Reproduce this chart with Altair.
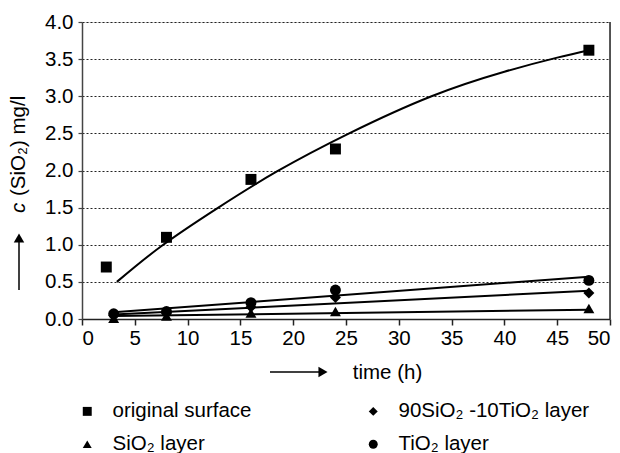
import altair as alt
import pandas as pd

# ---- data ----
series_names = ["original surface", "SiO\u2082 layer", "90SiO\u2082 -10TiO\u2082 layer", "TiO\u2082 layer"]
series_shapes = ["square", "triangle-up", "diamond", "circle"]

t_surface = [2.3, 8, 16, 24, 48]
c_surface = [0.70, 1.10, 1.88, 2.29, 3.62]

t_layers = [3, 8, 16, 24, 48]
c_sio2 = [0.01, 0.04, 0.08, 0.10, 0.14]
c_mixed = [0.05, 0.08, 0.16, 0.29, 0.35]
c_tio2 = [0.07, 0.10, 0.22, 0.39, 0.52]

# fitted curves
t_surface_fit = [3.3, 7.5, 12.8, 18.5, 25.3, 33.1, 40.0, 45.0, 48]
c_surface_fit = [0.50, 0.98, 1.49, 1.99, 2.50, 3.00, 3.33, 3.52, 3.62]
t_lin_fit = [3, 48]
c_tio2_fit = [0.09, 0.57]
c_mixed_fit = [0.06, 0.38]
c_sio2_fit = [0.04, 0.125]

x_ticks = list(range(0, 51, 5))
y_ticks = [0.0, 0.5, 1.0, 1.5, 2.0, 2.5, 3.0, 3.5, 4.0]

# ---- tables ----
rows = []
for t, c in zip(t_surface, c_surface):
    rows.append({"t": t, "c": c, "s": series_names[0]})
for name, vals in [(series_names[1], c_sio2), (series_names[2], c_mixed), (series_names[3], c_tio2)]:
    for t, c in zip(t_layers, vals):
        rows.append({"t": t, "c": c, "s": name})
pts = pd.DataFrame(rows)

fit_rows = []
for t, c in zip(t_surface_fit, c_surface_fit):
    fit_rows.append({"t": t, "c": c, "g": "surface"})
for g, vals in [("tio2", c_tio2_fit), ("mixed", c_mixed_fit), ("sio2", c_sio2_fit)]:
    for t, c in zip(t_lin_fit, vals):
        fit_rows.append({"t": t, "c": c, "g": g})
fits = pd.DataFrame(fit_rows)

FONT = "Liberation Sans"
W, H = 528, 297
FS = 20.5

xs = alt.Scale(domain=[0, 50], nice=False)
ys = alt.Scale(domain=[0, 4], nice=False)

x_axis = alt.Axis(values=x_ticks, title="time (h)", grid=False, tickSize=6,
                  labelFontSize=FS, labelPadding=3, titleFontSize=FS,
                  titleFontWeight="normal", titleX=305, titleY=53,
                  titleBaseline="middle", titleAlign="center", labelOverlap=False,
                  domainColor="#222", tickColor="#222", domainWidth=1.5, tickWidth=1.5)
y_axis = alt.Axis(values=y_ticks, format=".1f", title=None, grid=True,
                  gridDash=[2, 2], gridColor="#222", gridWidth=1.2,
                  tickSize=4, labelFontSize=FS, labelPadding=5, labelOverlap=False,
                  domainColor="#444", tickColor="#444", domainWidth=1.5, tickWidth=1.2)

lines = alt.Chart(fits).mark_line(color="black", strokeWidth=2, interpolate="natural").encode(
    x=alt.X("t:Q", scale=xs, axis=x_axis),
    y=alt.Y("c:Q", scale=ys, axis=y_axis),
    detail="g:N",
)

points = alt.Chart(pts).mark_point(filled=True, color="black", opacity=1, size=120).encode(
    x=alt.X("t:Q", scale=xs, axis=x_axis),
    y=alt.Y("c:Q", scale=ys, axis=y_axis),
    shape=alt.Shape("s:N", scale=alt.Scale(domain=series_names, range=series_shapes),
                    legend=alt.Legend(title=None, orient="none", legendX=-5, legendY=379,
                                      columns=2, columnPadding=111, rowPadding=12,
                                      symbolSize=80, symbolFillColor="black",
                                      symbolStrokeWidth=0, labelFontSize=FS,
                                      labelOffset=15, padding=0, labelLimit=400)),
)

border = alt.Chart(pd.DataFrame({"t": [50]})).mark_rule(color="#222", strokeWidth=1.5).encode(
    x=alt.X("t:Q", scale=xs, axis=x_axis)
)

# decorations: axis arrows and y title
deco = pd.DataFrame({"k": [0]})
y_arrow_line = alt.Chart(deco).mark_rule(color="black", strokeWidth=1.5).encode(
    x=alt.value(-63), y=alt.value(268), y2=alt.value(220))
y_arrow_head = alt.Chart(deco).mark_point(shape="triangle-up", filled=True, color="black",
                                          opacity=1, size=110).encode(
    x=alt.value(-63), y=alt.value(216))
x_arrow_line = alt.Chart(deco).mark_rule(color="black", strokeWidth=1.5).encode(
    x=alt.value(188), x2=alt.value(240), y=alt.value(350))
x_arrow_head = alt.Chart(deco).mark_point(shape="triangle-right", filled=True, color="black",
                                          opacity=1, size=110).encode(
    x=alt.value(241), y=alt.value(350))
y_title_c = alt.Chart(deco).mark_text(text="c", angle=270, align="left", baseline="middle",
                                      fontStyle="italic", fontSize=FS, font=FONT).encode(
    x=alt.value(-63), y=alt.value(191))
y_title_rest = alt.Chart(deco).mark_text(text="(SiO\u2082) mg/l", angle=270, align="left",
                                         baseline="middle", fontSize=FS, font=FONT).encode(
    x=alt.value(-63), y=alt.value(174))

chart = alt.layer(
    lines, border, points, y_arrow_line, y_arrow_head, x_arrow_line, x_arrow_head,
    y_title_c, y_title_rest,
).properties(
    width=W, height=H,
    autosize=alt.AutoSizeParams(type="none"),
    padding={"left": 74, "top": 14, "right": 2, "bottom": 134},
    background="white",
).configure_view(stroke=None).configure(font=FONT).configure_axis(
    labelFont=FONT, titleFont=FONT, labelColor="black", titleColor="black"
).configure_legend(labelFont=FONT, labelColor="black")

chart.save("out.html", embed_options={"renderer": "svg", "actions": False})
